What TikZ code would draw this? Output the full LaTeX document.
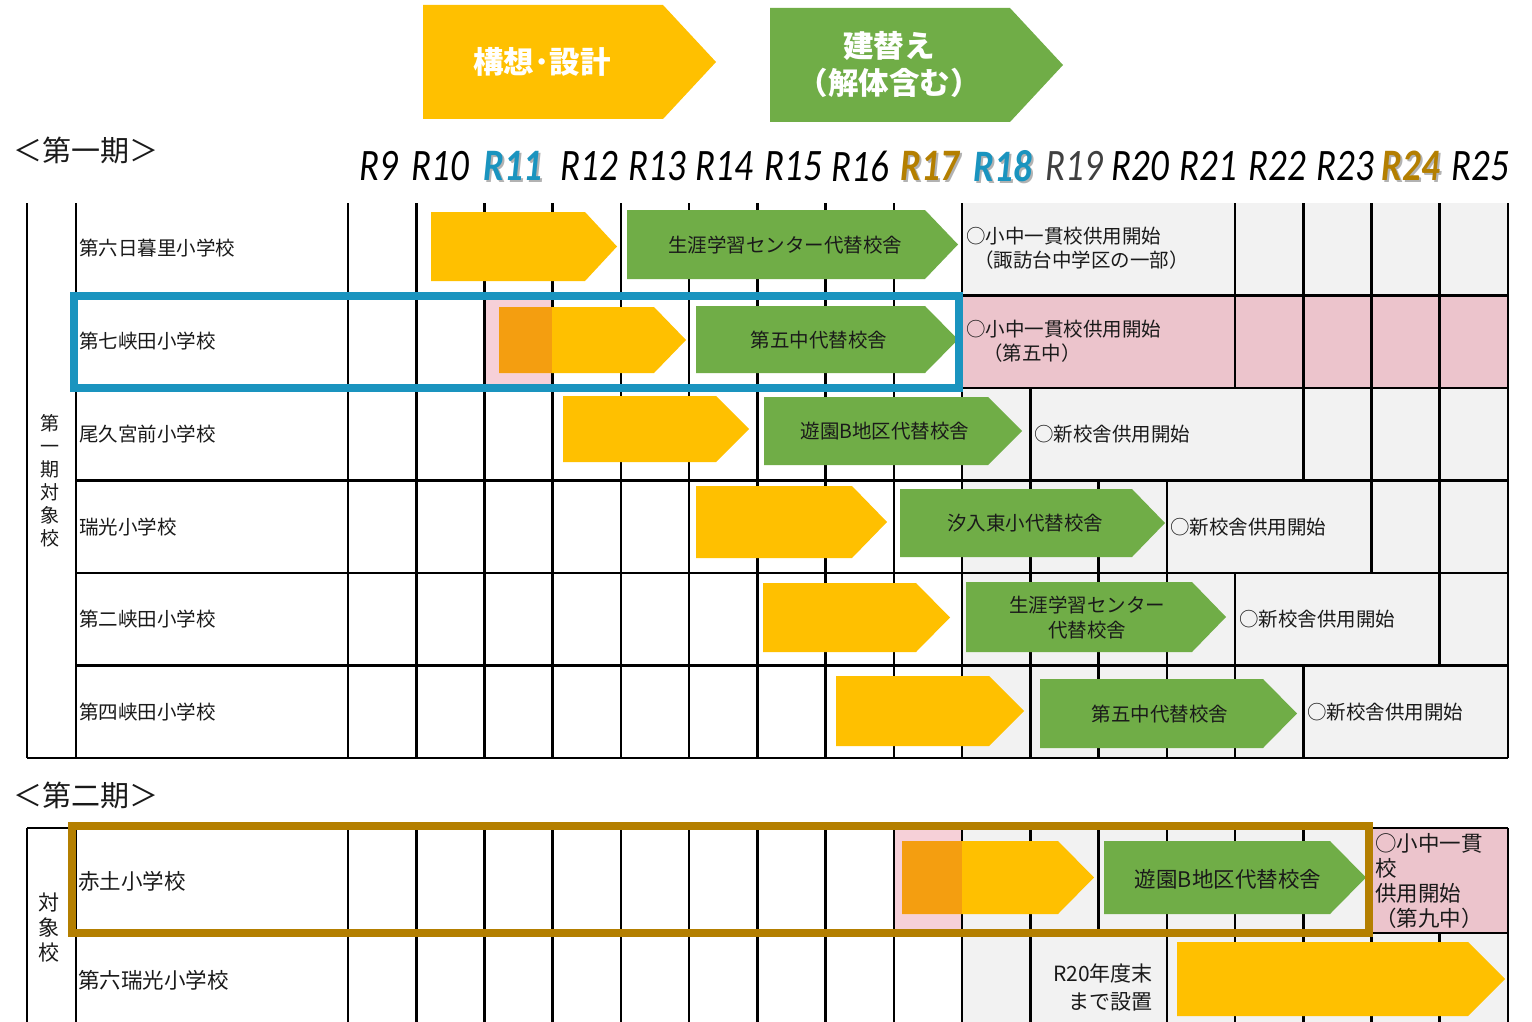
\documentclass[tikz,border=0pt]{standalone}
\usepackage{fontspec}
\setmainfont{Noto Sans CJK JP}
\newfontfamily\yearfont[FakeStretch=0.82]{Carlito}
\definecolor{cyellow}{HTML}{FFC000}
\definecolor{cgreen}{HTML}{70AD47}
\definecolor{corange}{HTML}{F49E10}
\definecolor{cgray}{HTML}{F2F2F2}
\definecolor{cpink}{HTML}{ECC4CC}
\definecolor{cpinkl}{HTML}{F6D0D8}
\definecolor{cblue}{HTML}{1A94BF}
\definecolor{cgold}{HTML}{B47F00}
\definecolor{ctext}{HTML}{1A1A1A}
\tikzset{
  gridline/.style={line width=2.6pt, black},
  lbl/.style={inner sep=0pt, anchor=west, text=ctext, font=\fontsize{19.5}{24}\selectfont},
  lblb/.style={inner sep=0pt, anchor=west, text=ctext, font=\fontsize{21.5}{25}\selectfont},
  bartext/.style={inner sep=0pt, text=ctext, align=center, font=\fontsize{19.5}{25}\selectfont},
  legtext/.style={inner sep=0pt, text=white, align=center, font=\fontsize{30.5}{37}\selectfont\bfseries},
  period/.style={inner sep=0pt, anchor=west, text=ctext, font=\fontsize{29}{34}\selectfont},
  vlabel/.style={inner sep=0pt, text=ctext, align=center},
  yr/.style={inner sep=0pt, font=\fontsize{45}{50}\yearfont\itshape},
}
% arrow shape: x1, x2, y1, y2, head, colour
\newcommand\chev[6]{\fill[#6] (#1,#3) -- ({#2-#5},#3) -- (#2,{(#3+#4)/2}) -- ({#2-#5},#4) -- (#1,#4) -- cycle;}
\begin{document}
\begin{tikzpicture}[x=1pt,y=-1pt]
\useasboundingbox (0,0) rectangle (1532,1022);
\fill[white] (0,0) rectangle (1532,1022);

% ---------- legend ----------
\chev{423}{716}{5}{119}{53}{cyellow}
\node[legtext] (legA) at (542,62) {構想･設計};
\chev{770}{1063}{8}{122}{53}{cgreen}
\node[legtext] (legB) at (889,65) {建替え\\（解体含む）};

% ---------- period headings ----------
\node[period] (p1) at (13,150) {＜第一期＞};
\node[period] (p2) at (13,795) {＜第二期＞};

% ---------- year labels ----------
\foreach \x/\t [count=\k] in {379/R9,440/R10,589/R12,657/R13,724/R14,793/R15,860/R16,1140/R20,1208/R21,1277/R22,1345/R23,1480/R25}
  \node[yr, text=black] (y\k) at (\x,166) {\t};
\node[yr, text=black!75] (y19) at (1074,166) {R19};
\foreach \x/\t/\c [count=\k] in {513/R11/cblue,1003/R18/cblue,930/R17/cgold,1411/R24/cgold}{
  \node[yr, text=black!30] (ys\k) at (\x+2,168) {\bfseries\t};
  \node[yr, text=\c] (yb\k) at (\x,166) {\bfseries\t};
}

% ---------- period 1 cell fills ----------
\fill[cgray] (962,203) rectangle (1508,758);
\fill[cpink] (962,295.5) rectangle (1508,388);
\fill[cpinkl] (484,295.5) rectangle (552,388);

% ---------- period 2 cell fills ----------
\fill[cgray] (962,828) rectangle (1508,1022);
\fill[cpinkl] (893,828) rectangle (962,933);
\fill[cpink] (1372,828) rectangle (1508,933);

% ---------- period 1 grid ----------
\draw[gridline] (27,203) -- (27,758);
\draw[gridline] (76,203) -- (76,758);
\draw[gridline] (27,758) -- (1508,758);
\foreach \yy in {295.5,388,480.5,573,665.5}
  \draw[gridline] (76,\yy) -- (1508,\yy);
\foreach \i in {0,1,2,3,4,5,6,7,8,9,13,14,15,16,17}
  \draw[gridline] ({348+68.2353*\i},203) -- ({348+68.2353*\i},295.5);
\foreach \i in {0,1,2,3,4,5,6,7,8,9,13,14,15,16,17}
  \draw[gridline] ({348+68.2353*\i},295.5) -- ({348+68.2353*\i},388);
\foreach \i in {0,1,2,3,4,5,6,7,8,9,10,14,15,16,17}
  \draw[gridline] ({348+68.2353*\i},388) -- ({348+68.2353*\i},480.5);
\foreach \i in {0,1,2,3,4,5,6,7,8,9,10,11,12,15,16,17}
  \draw[gridline] ({348+68.2353*\i},480.5) -- ({348+68.2353*\i},573);
\foreach \i in {0,1,2,3,4,5,6,7,8,9,10,11,12,13,16,17}
  \draw[gridline] ({348+68.2353*\i},573) -- ({348+68.2353*\i},665.5);
\foreach \i in {0,1,2,3,4,5,6,7,8,9,10,11,12,13,14,17}
  \draw[gridline] ({348+68.2353*\i},665.5) -- ({348+68.2353*\i},758);

% ---------- period 2 grid ----------
\draw[gridline] (27,828) -- (27,1022);
\draw[gridline] (76,828) -- (76,1022);
\draw[gridline] (27,828) -- (1508,828);
\draw[gridline] (76,933) -- (1508,933);
\foreach \i in {0,1,2,3,4,5,6,7,8,9,10,11,12,13,14,15,17}
  \draw[gridline] ({348+68.2353*\i},828) -- ({348+68.2353*\i},933);
\foreach \i in {0,1,2,3,4,5,6,7,8,9,10,12,13,14,15,16,17}
  \draw[gridline] ({348+68.2353*\i},933) -- ({348+68.2353*\i},1022);

% ---------- period 1 bars ----------
\chev{431}{617}{212}{281}{32}{cyellow}
\chev{627}{958}{210}{279}{33}{cgreen}
\node[bartext] (g1) at (785,245) {生涯学習センター代替校舎};

\chev{499}{686}{307}{373}{32}{cyellow}
\fill[corange] (499,307) rectangle (552,373);
\chev{696}{958}{306}{373}{33}{cgreen}
\node[bartext] (g2) at (819,340) {第五中代替校舎};

\chev{563}{749}{396}{462}{33}{cyellow}
\chev{764}{1022}{397}{465}{34}{cgreen}
\node[bartext] (g3) at (885,431) {遊園B地区代替校舎};

\chev{696}{887}{486}{558}{35}{cyellow}
\chev{900}{1165}{489}{557}{33}{cgreen}
\node[bartext] (g4) at (1025,523) {汐入東小代替校舎};

\chev{763}{950}{583}{652}{34}{cyellow}
\chev{966}{1226}{582}{652}{34}{cgreen}
\node[bartext] (g5) at (1087,618) {生涯学習センター\\代替校舎};

\chev{836}{1024}{676}{746}{35}{cyellow}
\chev{1040}{1297}{679}{748}{34}{cgreen}
\node[bartext] (g6) at (1160,714) {第五中代替校舎};

% ---------- period 2 bars ----------
\chev{902}{1094}{841}{914}{36}{cyellow}
\fill[corange] (902,841) rectangle (962,914);
\chev{1104}{1366}{841}{914}{36}{cgreen}
\node[bartext, font=\fontsize{21.5}{25}\selectfont] (g7) at (1228,879) {遊園B地区代替校舎};
\chev{1177}{1505}{942}{1016}{37}{cyellow}

% ---------- highlight frames ----------
\draw[cblue, line width=8pt] (74,296) rectangle (959,388);
\draw[cgold, line width=8pt] (72,826) rectangle (1369,933);

% ---------- row labels ----------
\node[lbl] (s1) at (79,248) {第六日暮里小学校};
\node[lbl] (s2) at (79,341) {第七峡田小学校};
\node[lbl] (s3) at (79,434) {尾久宮前小学校};
\node[lbl] (s4) at (79,527) {瑞光小学校};
\node[lbl] (s5) at (79,619) {第二峡田小学校};
\node[lbl] (s6) at (79,712) {第四峡田小学校};
\node[lblb] (s7) at (78,881) {赤土小学校};
\node[lblb] (s8) at (78,980) {第六瑞光小学校};

\node[vlabel, font=\fontsize{19}{23}\selectfont] (v1) at (50,481) {第\\一\\期\\対\\象\\校};
\node[vlabel, font=\fontsize{21}{25}\selectfont] (v2) at (49,928) {対\\象\\校};

% ---------- notes ----------
\node[lbl, align=left] (n1) at (966,248) {○小中一貫校供用開始\\\hspace*{8pt}（諏訪台中学区の一部）};
\node[lbl, align=left] (n2) at (966,341) {○小中一貫校供用開始\\\hspace*{17pt}（第五中）};
\node[lbl] (n3) at (1034,434) {○新校舎供用開始};
\node[lbl] (n4) at (1170,527) {○新校舎供用開始};
\node[lbl] (n5) at (1239,619) {○新校舎供用開始};
\node[lbl] (n6) at (1307,712) {○新校舎供用開始};
\node[lblb, align=left] (n7) at (1375,881) {○小中一貫\\校\\供用開始\\（第九中）};
\node[inner sep=0pt, anchor=east, align=right, text=ctext, font=\fontsize{21}{28}\selectfont] (n8) at (1153,987) {R20年度末\\まで設置};
\end{tikzpicture}
\end{document}
